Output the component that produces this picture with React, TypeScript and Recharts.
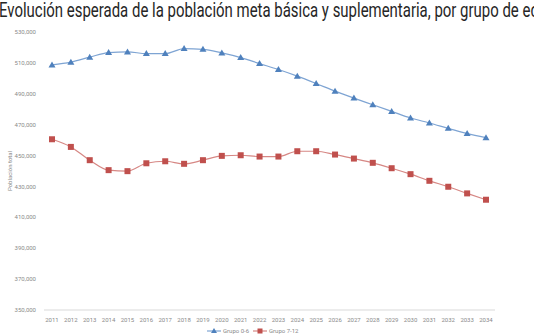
import React from "react"
import { Line, LineChart, XAxis, YAxis } from "recharts"

const years = [
  "2011", "2012", "2013", "2014", "2015", "2016", "2017", "2018", "2019", "2020", "2021", "2022",
  "2023", "2024", "2025", "2026", "2027", "2028", "2029", "2030", "2031", "2032", "2033", "2034",
]

const grupo06 = [
  508700, 510450, 513700, 516650, 517100, 516000, 516000, 519250, 518800, 516450, 513450, 509550,
  505700, 501400, 496650, 491700, 487200, 482900, 478600, 474300, 471100, 467600, 464200, 461600,
]

const grupo712 = [
  460550, 455600, 447000, 440550, 439900, 445000, 446300, 444650, 447000, 449800, 450200, 449350,
  449350, 452800, 452800, 450650, 448050, 445300, 441800, 437950, 433650, 429800, 425500, 421400,
]

const yTicks = [350000, 370000, 390000, 410000, 430000, 450000, 470000, 490000, 510000, 530000]

const data = years.map((year, i) => ({ year, g06: grupo06[i], g712: grupo712[i] }))

const BLUE = "#4F81BD"
const RED = "#C0504D"
const TICK = { fontSize: 6, fill: "#8a8a8a", fontFamily: "Roboto" }

const Triangle = (props: any) => {
  const { cx, cy } = props
  if (cx == null || cy == null) return null
  return <path d={`M${cx},${cy - 3.5} L${cx + 3.5},${cy + 2.5} L${cx - 3.5},${cy + 2.5} Z`} fill={BLUE} />
}

const Square = (props: any) => {
  const { cx, cy } = props
  if (cx == null || cy == null) return null
  return <rect x={cx - 3} y={cy - 3} width={6} height={6} fill={RED} />
}

export default function App() {
  return (
    <div
      style={{
        position: "fixed",
        left: 0,
        top: 0,
        width: 534,
        height: 335,
        overflow: "hidden",
        background: "#fff",
      }}
    >
      <div
        style={{
          position: "absolute",
          left: -1,
          top: -2,
          whiteSpace: "nowrap",
          fontFamily: "Roboto",
          fontSize: 21,
          color: "#262626",
          transform: "scaleX(0.712)",
          transformOrigin: "left top",
        }}
      >
        Evolución esperada de la población meta básica y suplementaria, por grupo de edad
      </div>
      <LineChart width={534} height={335} data={data} margin={{ top: 32, right: 39, bottom: 12, left: 0 }}>
        <XAxis
          dataKey="year"
          padding={{ left: 8, right: 9 }}
          tick={TICK}
          tickLine={false}
          axisLine={{ stroke: "#d9d9d9" }}
          height={13}
          interval={0}
        />
        <YAxis
          domain={[350000, 530000]}
          ticks={yTicks}
          tickFormatter={(v: number) => v.toLocaleString("en-US")}
          tick={TICK}
          tickLine={false}
          axisLine={false}
          width={44}
          label={{
            value: "Población total",
            angle: -90,
            position: "insideLeft",
            offset: 10,
            style: { fontSize: 6, fill: "#8a8a8a", fontFamily: "Roboto", textAnchor: "middle" },
          }}
        />
        <Line
          type="monotone"
          dataKey="g06"
          stroke="#7ea4d3"
          strokeWidth={1.2}
          dot={<Triangle />}
          isAnimationActive={false}
        />
        <Line
          type="monotone"
          dataKey="g712"
          stroke="#d68784"
          strokeWidth={1.2}
          dot={<Square />}
          isAnimationActive={false}
        />
      </LineChart>
      <svg style={{ position: "absolute", left: 0, top: 325 }} width={534} height={10}>
        <line x1={207} x2={221} y1={6} y2={6} stroke="#7ea4d3" strokeWidth={1.2} />
        <path d="M214,3 L217,8 L211,8 Z" fill={BLUE} />
        <text x={223} y={8} style={TICK}>Grupo 0-6</text>
        <line x1={253} x2={267} y1={6} y2={6} stroke="#d68784" strokeWidth={1.2} />
        <rect x={257.5} y={3.5} width={5} height={5} fill={RED} />
        <text x={269} y={8} style={TICK}>Grupo 7-12</text>
      </svg>
    </div>
  )
}
